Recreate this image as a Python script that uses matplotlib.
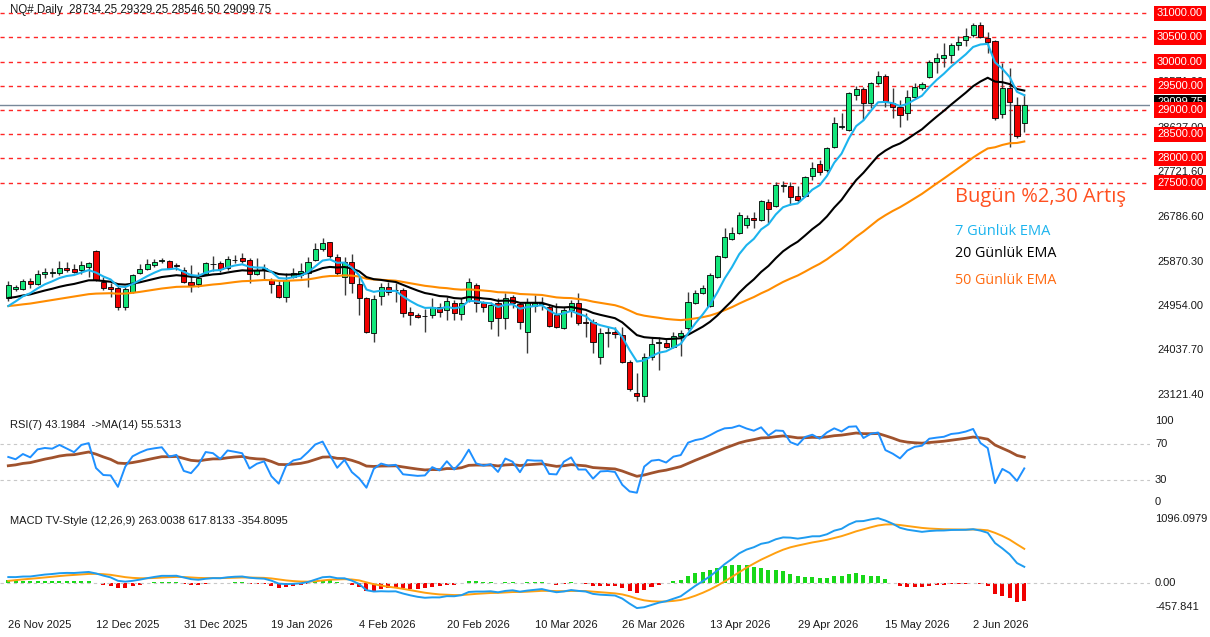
import numpy as np
import matplotlib.pyplot as plt
from matplotlib.transforms import blended_transform_factory

# daily OHLC
opens = [25118, 25304, 25304, 25469, 25407, 25614, 25634, 25634, 25738, 25717,
         25696, 25758, 26089, 25448, 25345, 25324, 24932, 25242, 25634, 25717,
         25800, 25872, 25882, 25800, 25696, 25448, 25407, 25614, 25810, 25841,
         25738, 25893, 25944, 25903, 25614, 25727, 25490, 25386, 25138, 25552,
         25593, 25634, 25903, 26130, 26275, 25965, 25552, 25862, 25407, 25118,
         24395, 25159, 25345, 25283, 25283, 24829, 24767, 24746, 24767, 24932,
         24870, 25015, 24787, 25056, 25386, 25015, 24643, 25015, 24705, 25138,
         24994, 24415, 24953, 25004, 24932, 24767, 24498, 24870, 25015, 24612,
         24622, 23899, 24395, 24415, 24353, 23796, 23155, 23093, 23899, 24178,
         24188, 24105, 24333, 24498, 25015, 25221, 24953, 25552, 25965, 26337,
         26460, 26626, 26770, 26729, 27101, 27018, 27432, 27432, 27225, 27225,
         27638, 27886, 27762, 28237, 28650, 28589, 29312, 29436, 29147, 29560,
         29704, 29147, 29064, 28940, 29270, 29456, 29684, 29994, 30076, 30138,
         30345, 30448, 30551, 30758, 30489, 30428, 28919, 29456, 29105, 28734.25]
highs = [25469, 25386, 25510, 25531, 25696, 25738, 25738, 25882, 25862, 25820,
         25882, 25862, 26110, 25552, 25428, 25386, 25345, 25614, 25820, 25924,
         25924, 25944, 25903, 25841, 25758, 25800, 25655, 25862, 25986, 25882,
         25986, 26007, 26048, 25944, 25944, 25820, 25531, 25490, 25634, 25738,
         25841, 25965, 26254, 26357, 26285, 26027, 25965, 26027, 25552, 25138,
         25180, 25428, 25448, 25428, 25324, 24932, 24808, 24891, 25118, 25015,
         25138, 25077, 25118, 25531, 25428, 25056, 25035, 25118, 25221, 25180,
         25035, 25118, 25180, 25138, 24994, 25015, 24932, 25077, 25221, 24808,
         24684, 24498, 24519, 24519, 24519, 23837, 23568, 23982, 24291, 24312,
         24271, 24415, 24457, 25242, 25283, 25386, 25634, 26007, 26564, 26584,
         26894, 26832, 26894, 27143, 27163, 27514, 27535, 27514, 27432, 27638,
         27928, 27969, 28237, 28857, 28940, 29374, 29498, 29477, 29580, 29808,
         29746, 29456, 29209, 29415, 29560, 29580, 30035, 30180, 30386, 30386,
         30531, 30696, 30799, 30820, 30613, 30448, 29973, 29870, 29270, 29329.25]
lows = [25056, 25262, 25283, 25324, 25386, 25531, 25552, 25593, 25655, 25634,
        25614, 25552, 25469, 25283, 25138, 24870, 24870, 25221, 25614, 25696,
        25758, 25841, 25717, 25696, 25428, 25242, 25345, 25593, 25676, 25655,
        25696, 25841, 25841, 25428, 25593, 25490, 25221, 25118, 25035, 25531,
        25531, 25345, 25882, 26089, 25944, 25593, 25180, 25221, 24767, 24395,
        24209, 24973, 25180, 25035, 24725, 24560, 24705, 24415, 24705, 24725,
        24663, 24663, 24663, 25035, 24829, 24829, 24477, 24333, 24477, 24911,
        24477, 23982, 24829, 24870, 24519, 24498, 24477, 24725, 24560, 24312,
        23982, 23754, 24105, 24291, 23775, 23196, 22990, 22969, 23837, 23630,
        24085, 24085, 23920, 24457, 24994, 25200, 24932, 25531, 25944, 26316,
        26440, 26564, 26564, 26709, 26667, 26998, 27308, 27039, 27101, 27205,
        27556, 27659, 27721, 28217, 28609, 28568, 29209, 28795, 29043, 29518,
        29064, 28837, 28651, 28795, 29229, 29415, 29663, 29766, 29890, 29973,
        30242, 30324, 30510, 30489, 30180, 28795, 28837, 28238, 28423, 28546.5]
closes = [25386, 25335, 25469, 25407, 25614, 25655, 25645, 25738, 25696, 25655,
          25800, 25841, 25490, 25324, 25314, 24932, 25304, 25593, 25717, 25820,
          25862, 25893, 25738, 25779, 25448, 25386, 25531, 25841, 25820, 25717,
          25924, 25903, 25882, 25614, 25696, 25738, 25407, 25138, 25490, 25634,
          25676, 25862, 26130, 26254, 25986, 25634, 25862, 25428, 25118, 24415,
          25097, 25345, 25242, 25273, 24808, 24767, 24725, 24736, 24932, 24829,
          25056, 24808, 25015, 25448, 25015, 24932, 24973, 24705, 25118, 25015,
          24622, 25035, 25015, 25015, 24539, 24519, 24870, 25015, 24602, 24602,
          24209, 24395, 24405, 24374, 23796, 23238, 23093, 23899, 24168, 24209,
          24105, 24333, 24395, 25035, 25221, 25324, 25593, 25986, 26378, 26460,
          26832, 26770, 26729, 27122, 26957, 27452, 27442, 27205, 27143, 27618,
          27803, 27721, 28217, 28733, 28661, 29353, 29436, 29147, 29560, 29704,
          29188, 29064, 28899, 29270, 29477, 29539, 29994, 30076, 30138, 30345,
          30407, 30531, 30758, 30510, 30407, 28837, 29456, 29167, 28465, 29099.75]

date_labels = ['26 Nov 2025', '12 Dec 2025', '31 Dec 2025', '19 Jan 2026', '4 Feb 2026',
               '20 Feb 2026', '10 Mar 2026', '26 Mar 2026', '13 Apr 2026', '29 Apr 2026',
               '15 May 2026', '2 Jun 2026']

levels = [31000, 30500, 30000, 29500, 29000, 28500, 28000, 27500]
price_ticks = [26786.60, 25870.30, 24954.00, 24037.70, 23121.40]
hidden_marks = [29571.00, 28627.00, 27721.60]
last_price = 29099.75

# indicator readouts as printed on the chart
rsi_text = 'RSI(7) 43.1984  ->MA(14) 55.5313'
macd_text = 'MACD TV-Style (12,26,9) 263.0038 617.8133 -354.8095'
macd_top, macd_bottom = 1096.0979, -457.841

# indicator starting values (value at first bar)
ema7_start, ema20_start, ema50_start = 24952, 25118, 24952
ema12_start, ema26_start, signal_start = 25250, 25150, 40
rsi_gain_start, rsi_loss_start, rsi_ma_start = 100, 80, 46


def ema(vals, n, start):
    a = 2 / (n + 1)
    out = [start]
    for v in vals[1:]:
        out.append(out[-1] + a * (v - out[-1]))
    return np.array(out)


def rsi(vals, n, g0, l0):
    ag, al = g0, l0
    out = [100 - 100 / (1 + ag / al)]
    for i in range(1, len(vals)):
        d = vals[i] - vals[i - 1]
        ag = (ag * (n - 1) + max(d, 0)) / n
        al = (al * (n - 1) + max(-d, 0)) / n
        out.append(100 - 100 / (1 + ag / al))
    return np.array(out)


o = np.array(opens, float)
h = np.array(highs, float)
l = np.array(lows, float)
c = np.array(closes, float)
n = len(c)
x = np.arange(n)

ema7 = ema(c, 7, ema7_start)
ema20 = ema(c, 20, ema20_start)
ema50 = ema(c, 50, ema50_start)

rsi7 = rsi(c, 7, rsi_gain_start, rsi_loss_start)
rsi_ma = ema(np.concatenate([[rsi_ma_start], rsi7[1:]]), 14, rsi_ma_start)

macd = ema(c, 12, ema12_start) - ema(c, 26, ema26_start)
signal = ema(macd, 9, signal_start)
hist = macd - signal

W, H = 1210, 637
fig = plt.figure(figsize=(W / 100, H / 100), dpi=100)


def panel(top, bottom):
    return fig.add_axes([0, 1 - bottom / H, 1150 / W, (bottom - top) / H])


ax = panel(0, 410)
ax_rsi = panel(410, 510)
ax_macd = panel(510, 614)
xlim = (-1.135, 156.2)
for a in (ax, ax_rsi, ax_macd):
    a.set_xlim(*xlim)
    a.set_xticks([])
    a.set_yticks([])
    for s in a.spines.values():
        s.set_visible(False)

FONT = 'Liberation Sans'
TXT = '#1a1a1a'

# ---- price panel
ax.set_ylim(22804, 31274.5)
for lv in levels:
    ax.axhline(lv, color='red', lw=1, ls=(0, (3, 3)), alpha=0.85, zorder=1)
ax.axhline(last_price, color='#778899', lw=1, zorder=1)

up = c >= o
body_lo = np.minimum(o, c)
body_h = np.maximum(np.abs(c - o), 12)
ax.vlines(x, l, h, color='#3a3a3a', lw=1, zorder=2)
ax.bar(x, body_h, bottom=body_lo, width=0.7,
       color=np.where(up, '#12e67a', '#f00000'), edgecolor='black', lw=0.6, zorder=3)

ax.plot(x, ema50, color='#ff8c00', lw=1.5, zorder=4)
ax.plot(x, ema20, color='black', lw=1.5, zorder=4)
ax.plot(x, ema7, color='#1cb4ee', lw=1.5, zorder=4)

fig.text(10 / W, 1 - 10 / H, 'NQ#,Daily  %.2f %.2f %.2f %.2f' % (o[-1], h[-1], l[-1], c[-1]),
         fontsize=8.3, family=FONT, color=TXT, va='center')

fig.text(955 / W, 1 - 197 / H, 'Bugün %2,30 Artış', fontsize=14.5, family='Open Sans',
         color='#ff5020', va='center')
fig.text(955 / W, 1 - 232 / H, '7 Günlük EMA', fontsize=10.5, family='Open Sans',
         color='#1cb4ee', va='center')
fig.text(955 / W, 1 - 254 / H, '20 Günlük EMA', fontsize=10.3, family='Open Sans',
         color='black', va='center')
fig.text(955 / W, 1 - 280 / H, '50 Günlük EMA', fontsize=10.3, family='Open Sans',
         color='#ff6a10', va='center')

tr = blended_transform_factory(fig.transFigure, ax.transData)
lx = 1157 / W
for v in price_ticks:
    ax.text(lx, v, '%.2f' % v, transform=tr, fontsize=8, family=FONT, color=TXT,
            va='center', clip_on=False)
for v in hidden_marks:
    ax.text(lx, v, '%.2f' % v, transform=tr, fontsize=8, family=FONT, color=TXT,
            va='center', clip_on=False, zorder=5)
ax.text(lx, last_price + 60, '%.2f' % last_price, transform=tr, fontsize=8, family=FONT,
        color='white', va='center', clip_on=False, zorder=6,
        bbox=dict(boxstyle='square,pad=0.25', fc='black', ec='none'))
for v in levels:
    ax.text(lx, v, '%.2f' % v, transform=tr, fontsize=8, family=FONT, color='white',
            va='center', clip_on=False, zorder=7,
            bbox=dict(boxstyle='square,pad=0.25', fc='red', ec='none'))

# ---- RSI panel
ax_rsi.set_ylim(-2.2, 106.7)
for lv in (70, 30):
    ax_rsi.axhline(lv, color='#c8c8c8', lw=0.8, ls=(0, (3, 3)))
ax_rsi.plot(x, rsi_ma, color='#a0522d', lw=2)
ax_rsi.plot(x, rsi7, color='#1e90ff', lw=1.4)
fig.text(10 / W, 1 - 425 / H, rsi_text, fontsize=8, family=FONT, color=TXT, va='center')
tr = blended_transform_factory(fig.transFigure, ax_rsi.transData)
for v, yy in ((100, 100 - 5.5), (70, 70), (30, 30), (0, 0 + 6.5)):
    ax_rsi.text(1155 / W, yy, str(v), transform=tr, fontsize=8, family=FONT, color=TXT,
                va='center', clip_on=False)

# ---- MACD panel
ax_macd.set_ylim(-484, 1161)
ax_macd.axhline(0, color='#c8c8c8', lw=0.8, ls=(0, (3, 3)))
ax_macd.bar(x, hist, width=0.55, color=np.where(hist >= 0, '#18d818', '#f00000'))
ax_macd.plot(x, signal, color='#ffa010', lw=1.4)
ax_macd.plot(x, macd, color='#1e9cf0', lw=1.4)
fig.text(10 / W, 1 - 521 / H, macd_text, fontsize=8, family=FONT, color=TXT, va='center')
tr = blended_transform_factory(fig.transFigure, ax_macd.transData)
ax_macd.text(1155 / W, macd_top, '%.4f' % macd_top, transform=tr, fontsize=8, family=FONT,
             color=TXT, va='top', clip_on=False)
ax_macd.text(1155 / W, 0, '0.00', transform=tr, fontsize=8, family=FONT, color=TXT,
             va='center', clip_on=False)
ax_macd.text(1155 / W, macd_bottom, '%.3f' % macd_bottom, transform=tr, fontsize=8, family=FONT,
             color=TXT, va='bottom', clip_on=False)

# ---- date axis
tr = blended_transform_factory(ax_macd.transData, fig.transFigure)
for k, lab in enumerate(date_labels):
    ax_macd.text(k * 12, 1 - 625 / H, lab, transform=tr, fontsize=8, family=FONT,
                 color=TXT, va='center', ha='left', clip_on=False)

fig.savefig('out.png', dpi=100, facecolor='white')
